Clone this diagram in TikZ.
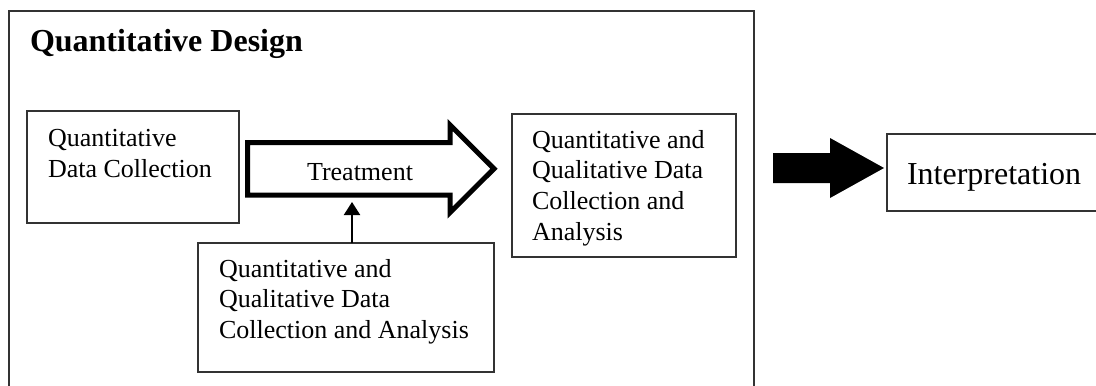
\documentclass[tikz,border=0pt]{standalone}
\usepackage{fontspec}
\setmainfont{Liberation Serif}
\usetikzlibrary{arrows.meta}
\begin{document}
\begin{tikzpicture}[x=0.5pt,y=-0.5pt]
\tikzstyle{every node}=[inner sep=0pt,outer sep=0pt]
\tikzstyle{box}=[draw=black!80,line width=0.7pt,rectangle,anchor=north west]
\tikzstyle{txt}=[anchor=north west,align=left,font=\fontsize{13}{15.4}\selectfont]
\useasboundingbox (0,0) rectangle (1096,385);
\clip (0,0) rectangle (1096,385);
% frame of the design
\draw[draw=black!80,line width=0.7pt] (9,400) -- (9,11) -- (754,11) -- (754,400);
\node[anchor=base west,font=\fontsize{16}{19}\selectfont\bfseries](t0) at (30,52) {Quantitative Design};
% boxes
\node[box,minimum width=106pt,minimum height=56pt](b0) at (27,111) {};
\node[box,minimum width=148pt,minimum height=64.5pt](b1) at (198,243) {};
\node[box,minimum width=112pt,minimum height=71.5pt](b2) at (512,114) {};
\node[box,minimum width=125pt,minimum height=38.5pt](b3) at (887,134) {};
% texts
\node[txt](t1) at (48,129) {Quantitative\\Data Collection};
\node[txt](t2) at (219,259) {Quantitative and\\Qualitative Data\\Collection and Analysis};
\node[txt](t3) at (532,130) {Quantitative and\\Qualitative Data\\Collection and\\Analysis};
\node[anchor=base west,font=\fontsize{16}{19}\selectfont](t4) at (907,184) {Interpretation};
% arrows
\draw[line width=2.5pt] (247.5,142.5) -- (450,142.5) -- (450,125) -- (494,168.75) -- (450,212.5) -- (450,195) -- (247.5,195) -- cycle;
\node[anchor=base,font=\fontsize{13}{15.4}\selectfont](tr) at (360,180) {Treatment};
\coordinate (c0) at (352,202);
\draw[line width=1pt,-{Triangle[length=6.5pt,width=8pt]}] (b1.north -| c0) -- (c0);
\fill (773,153) -- (830,153) -- (830,138) -- (884,168) -- (830,198) -- (830,183) -- (773,183) -- cycle;
\end{tikzpicture}
\end{document}
